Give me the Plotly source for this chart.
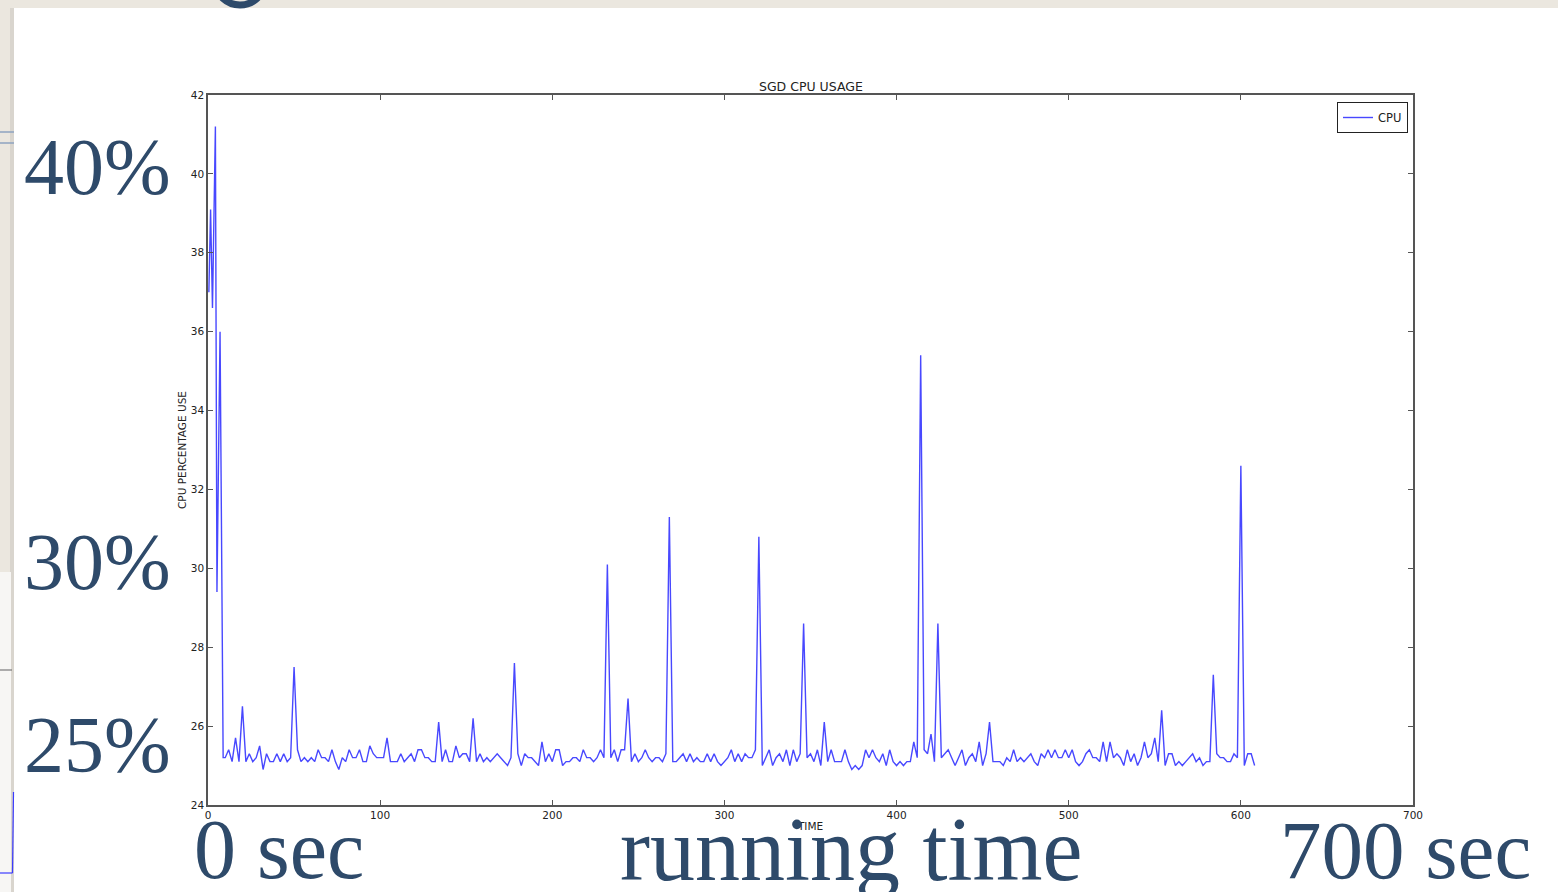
import plotly.graph_objects as go

# ---- data -------------------------------------------------------------
# first seconds of the run, sampled irregularly
START_TIME = [0.5, 1.5, 2.6, 4.3, 5.2, 7.0, 8.8]
START_CPU = [37.0, 39.1, 36.6, 41.2, 29.4, 36.0, 25.2]

# remainder of the run, one sample every 2 seconds from t=10 to t=608
BODY_TIME = list(range(10, 609, 2))
BODY_CPU = [
    25.2, 25.4, 25.1, 25.7, 25.1, 26.5, 25.1, 25.3, 25.1, 25.2,
    25.5, 24.9, 25.3, 25.1, 25.1, 25.3, 25.1, 25.3, 25.1, 25.2,
    27.5, 25.4, 25.1, 25.2, 25.1, 25.2, 25.1, 25.4, 25.2, 25.2,
    25.1, 25.4, 25.1, 24.9, 25.2, 25.1, 25.4, 25.2, 25.2, 25.4,
    25.1, 25.1, 25.5, 25.3, 25.2, 25.2, 25.2, 25.7, 25.1, 25.1,
    25.1, 25.3, 25.1, 25.2, 25.3, 25.1, 25.4, 25.4, 25.2, 25.2,
    25.1, 25.1, 26.1, 25.1, 25.4, 25.1, 25.1, 25.5, 25.2, 25.3,
    25.3, 25.1, 26.2, 25.1, 25.3, 25.1, 25.2, 25.1, 25.2, 25.3,
    25.2, 25.1, 25.0, 25.2, 27.6, 25.3, 25.0, 25.3, 25.2, 25.2,
    25.1, 25.0, 25.6, 25.1, 25.3, 25.1, 25.4, 25.4, 25.0, 25.1,
    25.1, 25.2, 25.2, 25.1, 25.4, 25.2, 25.2, 25.1, 25.2, 25.4,
    25.2, 30.1, 25.2, 25.4, 25.1, 25.4, 25.4, 26.7, 25.1, 25.3,
    25.1, 25.2, 25.4, 25.2, 25.1, 25.2, 25.2, 25.1, 25.3, 31.3,
    25.1, 25.1, 25.2, 25.3, 25.1, 25.3, 25.1, 25.2, 25.1, 25.1,
    25.3, 25.1, 25.3, 25.1, 25.0, 25.1, 25.2, 25.4, 25.1, 25.3,
    25.1, 25.3, 25.2, 25.2, 25.4, 30.8, 25.0, 25.2, 25.4, 25.0,
    25.2, 25.3, 25.1, 25.4, 25.0, 25.4, 25.1, 25.3, 28.6, 25.2,
    25.3, 25.1, 25.4, 25.0, 26.1, 25.1, 25.4, 25.1, 25.1, 25.1,
    25.4, 25.1, 24.9, 25.0, 24.9, 25.0, 25.4, 25.2, 25.4, 25.2,
    25.1, 25.3, 25.0, 25.4, 25.1, 25.0, 25.1, 25.0, 25.1, 25.1,
    25.6, 25.2, 35.4, 25.4, 25.3, 25.8, 25.1, 28.6, 25.2, 25.3,
    25.4, 25.2, 25.0, 25.2, 25.4, 25.0, 25.2, 25.3, 25.1, 25.6,
    25.0, 25.3, 26.1, 25.1, 25.1, 25.1, 25.0, 25.2, 25.1, 25.4,
    25.1, 25.2, 25.1, 25.2, 25.3, 25.1, 25.0, 25.3, 25.2, 25.4,
    25.2, 25.4, 25.2, 25.2, 25.4, 25.2, 25.4, 25.1, 25.0, 25.1,
    25.3, 25.4, 25.2, 25.2, 25.1, 25.6, 25.1, 25.6, 25.2, 25.3,
    25.2, 25.0, 25.4, 25.1, 25.3, 25.0, 25.2, 25.6, 25.2, 25.3,
    25.7, 25.1, 26.4, 25.0, 25.3, 25.3, 25.0, 25.1, 25.0, 25.1,
    25.2, 25.3, 25.1, 25.2, 25.0, 25.1, 25.1, 27.3, 25.3, 25.2,
    25.2, 25.1, 25.1, 25.3, 25.2, 32.6, 25.0, 25.3, 25.3, 25.0,
]

X_TICKS = [0, 100, 200, 300, 400, 500, 600, 700]
Y_TICKS = [24, 26, 28, 30, 32, 34, 36, 38, 40, 42]

TIME = START_TIME + BODY_TIME
CPU = START_CPU + BODY_CPU

# slide captions around the chart
SIDE_LABELS = ["40%", "30%", "25%"]
BOTTOM_LABELS = ["0 sec", "running time", "700 sec"]

# ---- geometry (pixels) -------------------------------------------------
FIG_W, FIG_H = 1558, 892
L, R, T, B = 208, 1413, 95, 805
PW, PH = R - L, B - T


def px(xp):
    return (xp - L) / PW


def py(yp):
    return (B - yp) / PH


SLIDE_BG = "#ebe7df"
INK = "#2e4a6a"
AX_FONT = "DejaVu Sans"
SERIF = "Liberation Serif"

fig = go.Figure()
fig.add_trace(go.Scatter(
    x=TIME, y=CPU, mode="lines", name="CPU",
    line=dict(color="rgba(40,40,255,0.85)", width=1.4),
))

shapes = [
    # white slide card with a soft left shadow
    dict(type="rect", xref="paper", yref="paper", x0=px(10), x1=px(FIG_W + 5),
         y0=py(FIG_H + 5), y1=py(8), fillcolor="#d9d5ce", line_width=0, layer="below"),
    dict(type="rect", xref="paper", yref="paper", x0=px(14), x1=px(FIG_W + 5),
         y0=py(FIG_H + 5), y1=py(8), fillcolor="white", line_width=0, layer="below"),
    # card peeking out underneath at lower left
    dict(type="rect", xref="paper", yref="paper", x0=px(-5), x1=px(11),
         y0=py(FIG_H + 5), y1=py(572), fillcolor="#f7f6f4", line_width=0, layer="below"),
    dict(type="line", xref="paper", yref="paper", x0=px(0), x1=px(12),
         y0=py(670), y1=py(670), line=dict(color="#7a7a7a", width=1.2), layer="below"),
    dict(type="line", xref="paper", yref="paper", x0=px(12.5), x1=px(13.5),
         y0=py(873), y1=py(792), line=dict(color="#3b3bff", width=1.2), layer="below"),
    dict(type="line", xref="paper", yref="paper", x0=px(0), x1=px(12.5),
         y0=py(873), y1=py(873), line=dict(color="#3b3bff", width=1.2), layer="below"),
    # thin rules on the strip of the slide behind
    dict(type="line", xref="paper", yref="paper", x0=px(0), x1=px(14),
         y0=py(132), y1=py(132), line=dict(color="#8ea3c0", width=1.5), layer="below"),
    dict(type="line", xref="paper", yref="paper", x0=px(0), x1=px(14),
         y0=py(143), y1=py(143), line=dict(color="#8ea3c0", width=1.5), layer="below"),
    # bottom of a heading glyph above the card
    dict(type="circle", xref="paper", yref="paper", x0=px(216), x1=px(264),
         y0=py(5), y1=py(-40), line=dict(color=INK, width=7), layer="below"),
]

annotations = []
side_y = [167, 562, 745]
for text, yc in zip(SIDE_LABELS, side_y):
    annotations.append(dict(
        text=text, xref="paper", yref="paper", x=px(22), y=py(yc),
        xanchor="left", yanchor="middle", showarrow=False,
        font=dict(family=SERIF, size=80, color=INK),
    ))
bottom_x = [192, 618, 1278]
bottom_size = [84, 90, 83]
for text, xl, fs in zip(BOTTOM_LABELS, bottom_x, bottom_size):
    annotations.append(dict(
        text=text, xref="paper", yref="paper", x=px(xl), y=py(850),
        xanchor="left", yanchor="middle", showarrow=False,
        font=dict(family=SERIF, size=fs, color=INK),
    ))
# chart title
annotations.append(dict(
    text="SGD CPU USAGE", xref="paper", yref="paper", x=0.5, y=1,
    xanchor="center", yanchor="bottom", yshift=-1, showarrow=False,
    font=dict(family=AX_FONT, size=12.5, color="#222"),
))

axis_common = dict(
    showgrid=False, zeroline=False, showline=True, mirror="ticks",
    linecolor="#555", linewidth=1.5, ticks="inside", ticklen=5,
    tickwidth=1, tickcolor="#555",
    tickfont=dict(family=AX_FONT, size=10.5, color="#222"),
)

fig.update_layout(
    width=FIG_W, height=FIG_H,
    margin=dict(l=L, r=FIG_W - R, t=T, b=FIG_H - B, pad=0),
    paper_bgcolor=SLIDE_BG, plot_bgcolor="white",
    xaxis=dict(range=[0, 700], tickvals=X_TICKS, **axis_common,
               title=dict(text="TIME", standoff=2,
                          font=dict(family=AX_FONT, size=10.5, color="#222"))),
    yaxis=dict(range=[24, 42], tickvals=Y_TICKS, **axis_common,
               title=dict(text="CPU PERCENTAGE USE", standoff=2,
                          font=dict(family=AX_FONT, size=10.5, color="#222"))),
    showlegend=True,
    legend=dict(x=px(1408), y=py(102), xanchor="right", yanchor="top",
                bgcolor="white", bordercolor="#222", borderwidth=1,
                font=dict(family=AX_FONT, size=11.5, color="#222"),
                itemwidth=30, tracegroupgap=0),
    shapes=shapes,
    annotations=annotations,
)

fig.write_html("out.html")
